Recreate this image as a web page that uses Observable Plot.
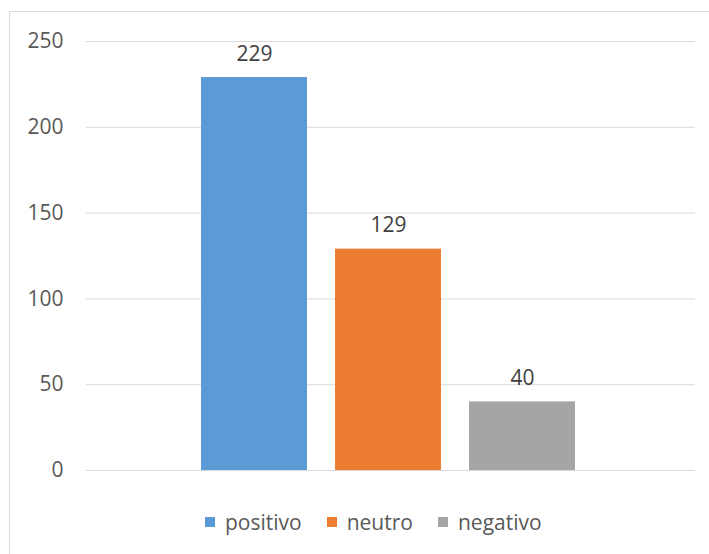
<!DOCTYPE html>
<html>
<head>
<meta charset="utf-8">
<script src="https://cdn.jsdelivr.net/npm/d3@7"></script>
<script src="https://cdn.jsdelivr.net/npm/@observablehq/plot@0.6"></script>
<style>
  html, body { margin: 0; padding: 0; background: #fff; overflow: hidden; width: 709px; height: 554px; }
  #frame { position: absolute; left: 9px; top: 11px; width: 760px; height: 600px; border: 1px solid #d9d9d9; box-sizing: border-box; }
  #chart { position: absolute; left: 0; top: 0; }
  #legend { position: absolute; left: 205px; top: 508px; display: flex; align-items: center; font-family: "Open Sans", sans-serif; font-size: 21px; color: #595959; white-space: nowrap; }
  .item { display: flex; align-items: center; margin-right: 25px; }
  .sw { width: 10px; height: 10px; margin-right: 10px; }
</style>
</head>
<body>
<div id="frame"></div>
<div id="chart"></div>
<div id="legend"></div>
<script>
const categories = ["positivo", "neutro", "negativo"];
const values = [229, 129, 40];
const colors = ["#5B9BD5", "#ED7D31", "#A5A5A5"];
const yTicks = [0, 50, 100, 150, 200, 250];

const data = categories.map((c, i) => ({cat: c, value: values[i]}));

const chart = Plot.plot({
  width: 709,
  height: 490,
  marginLeft: 86,
  marginRight: 14,
  marginTop: 41,
  marginBottom: 20,
  style: {fontFamily: "'Open Sans', sans-serif", fontSize: "21px", background: "transparent"},
  x: {domain: categories, paddingInner: 0.212, paddingOuter: 0.87, align: 0.49, axis: null},
  y: {domain: [0, 250], ticks: yTicks, tickSize: 0, tickPadding: 23, label: null, grid: false},
  color: {domain: categories, range: colors},
  marks: [
    Plot.ruleY(yTicks, {stroke: "#d9d9d9", strokeWidth: 1, strokeOpacity: 1}),
    Plot.axisY({ticks: yTicks, tickSize: 0, tickPadding: 23, label: null, fill: "#595959", fontSize: 21}),
    Plot.barY(data, {x: "cat", y: "value", fill: "cat"}),
    Plot.text(data, {x: "cat", y: "value", text: d => String(d.value), lineAnchor: "bottom", dy: -17, fill: "#404040", fontSize: 21})
  ]
});
document.getElementById("chart").appendChild(chart);

const legend = document.getElementById("legend");
categories.forEach((c, i) => {
  const item = document.createElement("div");
  item.className = "item";
  const sw = document.createElement("div");
  sw.className = "sw";
  sw.style.background = colors[i];
  const t = document.createElement("span");
  t.textContent = c;
  item.appendChild(sw);
  item.appendChild(t);
  legend.appendChild(item);
});
</script>
</body>
</html>
